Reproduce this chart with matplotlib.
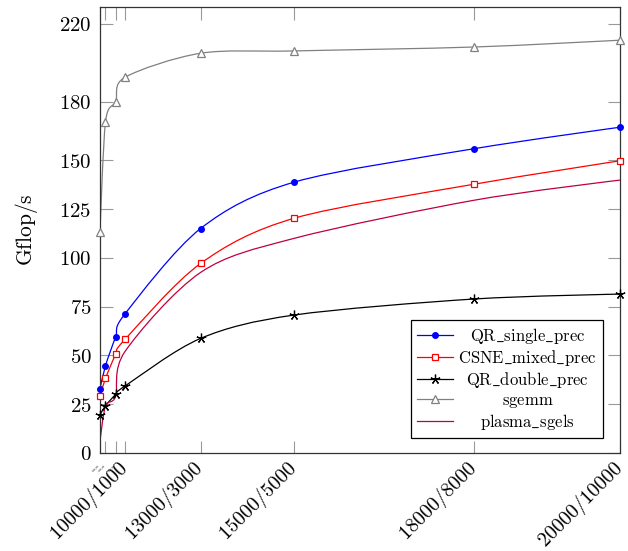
import matplotlib
matplotlib.use('Agg')
import matplotlib.pyplot as plt
import numpy as np
from matplotlib.path import Path
from matplotlib.patches import PathPatch
from matplotlib.lines import Line2D

plt.rcParams['mathtext.fontset'] = 'cm'
plt.rcParams['font.family'] = 'serif'

# matrix sizes m/n, x position is m*n
sizes = ['2000/200', '5000/500', '8000/800', '10000/1000',
         '13000/3000', '15000/5000', '18000/8000', '20000/10000']
x = [int(s.split('/')[0]) * int(s.split('/')[1]) for s in sizes]

qr_single = [32.8, 44.7, 59.5, 71.3, 115.0, 138.8, 155.9, 166.9]
csne_mixed = [29.3, 38.2, 50.5, 58.2, 97.1, 120.3, 137.7, 149.7]
qr_double = [19.5, 24.2, 30.0, 34.3, 58.7, 70.7, 78.9, 81.4]
sgemm = [113.0, 169.5, 180.0, 192.5, 204.8, 206.0, 208.0, 211.5]
plasma_sgels = [6.0, 24.0, 29.0, 52.0, 92.5, 110.0, 129.5, 139.8]

yticks = [0, 25, 50, 75, 100, 125, 150, 180, 220]


def smooth(xs, ys, tension=0.55):
    # same kind of curve as pgf "smooth"
    f = 0.2775 * tension
    p = np.column_stack([xs, ys]).astype(float)
    verts = [p[0]]
    codes = [Path.MOVETO]
    n = len(p)
    for i in range(n - 1):
        c1 = p[i] if i == 0 else p[i] + f * (p[i + 1] - p[i - 1])
        c2 = p[i + 1] if i + 1 == n - 1 else p[i + 1] - f * (p[i + 2] - p[i])
        verts += [c1, c2, p[i + 1]]
        codes += [Path.CURVE4] * 3
    return Path(verts, codes)


fig = plt.figure(figsize=(6.28, 5.51), dpi=100)
ax = fig.add_axes([100 / 628, 98 / 551, 520 / 628, 446 / 551])

series = [
    (qr_single, 'blue', dict(marker='o', ms=4, mfc='blue', mec='blue'), r'$\mathrm{QR\_single\_prec}$'),
    (csne_mixed, 'red', dict(marker='s', ms=4.5, mfc='white', mec='red', mew=0.9), r'$\mathrm{CSNE\_mixed\_prec}$'),
    (qr_double, 'black', dict(marker=(5, 2, 0), ms=7, mec='black', mew=0.9), r'$\mathrm{QR\_double\_prec}$'),
    (sgemm, 'gray', dict(marker='^', ms=6, mfc='white', mec='gray', mew=0.9), r'$\mathrm{sgemm}$'),
    (plasma_sgels, (0.75, 0, 0.25), dict(marker='None'), r'$\mathrm{plasma\_sgels}$'),
]

handles = []
for ys, col, mk, lab in series:
    ax.add_patch(PathPatch(smooth(x, ys), fill=False, edgecolor=col, lw=0.9, zorder=2))
    if mk['marker'] != 'None':
        ax.plot(x, ys, ls='none', zorder=3, clip_on=False, **mk)
    handles.append(Line2D([], [], color=col, lw=0.9, label=lab, **mk))

ax.set_xlim(0.4e6, 2.0e8)
ax.set_ylim(0, 228.5)
ax.set_yticks(yticks)
ax.set_yticklabels(['$%d$' % v for v in yticks], fontsize=15)
ax.set_xticks(x)
labels = ax.set_xticklabels(['$%s$' % s for s in sizes], rotation=45, ha='right',
                            va='center', rotation_mode='anchor', fontsize=14.5)
for t in labels[:3]:
    t.set_fontsize(1.5)
ax.tick_params(direction='in', length=9, width=0.8, color='#999999',
               top=True, right=True, pad=6)
ax.tick_params(axis='x', pad=9)
for s in ax.spines.values():
    s.set_linewidth(0.9)
    s.set_color('#333333')
ax.set_ylabel(r'$\mathrm{Gflop/s}$', fontsize=15.5, labelpad=14)

leg = ax.legend(handles=handles, loc='lower right', bbox_to_anchor=(0.967, 0.034),
                borderaxespad=0, fontsize=12, numpoints=1, handlelength=2.2,
                handletextpad=0.3, labelspacing=0.12, borderpad=0.35,
                fancybox=False, framealpha=1)
leg.get_frame().set_edgecolor('black')
leg.get_frame().set_linewidth(0.9)

# center legend texts like pgfplots
fig.canvas.draw()
r = fig.canvas.get_renderer()
widths = [t.get_window_extent(r).width for t in leg.get_texts()]
for t, w in zip(leg.get_texts(), widths):
    t.set_x((max(widths) - w) / 2)

fig.savefig('out.png', dpi=100)
